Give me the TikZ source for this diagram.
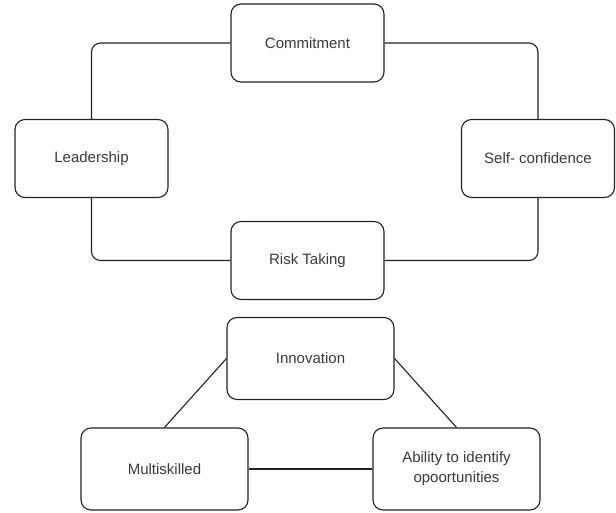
\documentclass[tikz,border=0pt]{standalone}
\usepackage{fontspec}
\setmainfont{Liberation Sans}
\definecolor{inkline}{HTML}{222222}
\definecolor{inktext}{HTML}{3A3A3A}
\begin{document}
\begin{tikzpicture}[x=1pt, y=1pt,
		every node/.style={font=\fontsize{15}{20}\selectfont, text=inktext},
		trait/.style={draw=inkline, line width=1.1pt, rounded corners=10pt, align=center,
			minimum width=153pt, minimum height=78pt, inner sep=2pt},
		bigtrait/.style={trait, minimum width=167pt, minimum height=82pt},
		link/.style={draw=inkline, line width=1.1pt, rounded corners=9pt}]
				\useasboundingbox (0,0) rectangle (616,512);
				% upper loop
				\node[trait] (commit) at (307.5, 469) {Commitment};
				\node[trait] (lead) at (91.5, 353.5) {Leadership};
				\node[trait] (self) at (538, 353.5) {Self- confidence};
				\node[trait] (risk) at (307.5, 251.5) {Risk Taking};
				\draw[link] (commit.west) -| (lead.north);
				\draw[link] (commit.east) -| (self.north);
				\draw[link] (lead.south) |- (risk.west);
				\draw[link] (self.south) |- (risk.east);
				% lower triangle
				\node[bigtrait] (innov) at (310.5, 153.5) {Innovation};
				\node[bigtrait] (multi) at (164.5, 43) {Multiskilled};
				\node[bigtrait] (able) at (456.5, 43) {Ability to identify\\opoortunities};
				\draw[link] (innov.west) -- (multi.north);
				\draw[link] (innov.east) -- (able.north);
				\draw[link] (multi) -- (able);
			\end{tikzpicture}
\end{document}
